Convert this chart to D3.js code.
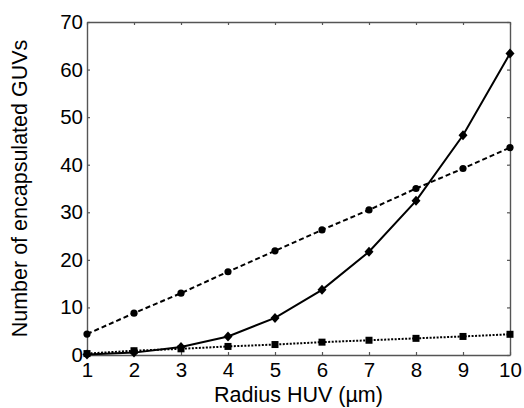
<!DOCTYPE html>
<html>
<head>
<meta charset="utf-8">
<script src="https://cdn.jsdelivr.net/npm/d3@7"></script>
<style>
  body { margin: 0; background: #fff; }
  text { font-family: "Liberation Sans", Arial, sans-serif; fill: #000; }
</style>
</head>
<body>
<div id="chart"></div>
<script>
// radius of HUV (µm)
let radius = [1, 2, 3, 4, 5, 6, 7, 8, 9, 10];

// number of encapsulated GUVs, one array per series
let diamondSeries = [0.1, 0.5, 1.7, 3.9, 7.8, 13.7, 21.7, 32.4, 46.2, 63.4];
let circleSeries = [4.4, 8.8, 13.0, 17.5, 21.9, 26.3, 30.5, 35.0, 39.2, 43.6];
let squareSeries = [0.3, 0.9, 1.3, 1.8, 2.2, 2.7, 3.1, 3.5, 3.9, 4.35];

let xTicks = [1, 2, 3, 4, 5, 6, 7, 8, 9, 10];
let yTicks = [0, 10, 20, 30, 40, 50, 60, 70];

let width = 524, height = 408;
let margin = {top: 22, right: 14, bottom: 53, left: 87};
let tickFont = "20.5px";
let titleFont = "21.5px";

let svg = d3.select("#chart").append("svg")
    .attr("width", width)
    .attr("height", height);

let x = d3.scaleLinear().domain([1, 10]).range([margin.left, width - margin.right]);
let y = d3.scaleLinear().domain([0, 70]).range([height - margin.bottom, margin.top]);

let axisColor = "#555";

// frame with inward ticks on all four sides
function styleAxis(g) {
    g.attr("font-family", null).attr("font-size", null);
    g.select(".domain").attr("stroke", axisColor).attr("stroke-width", 1.4);
    g.selectAll(".tick line").attr("stroke", axisColor).attr("stroke-width", 1.2);
    g.selectAll(".tick text").style("font-size", tickFont).attr("fill", "#000");
}

svg.append("g")
    .attr("transform", `translate(0,${y(0)})`)
    .call(d3.axisBottom(x).tickValues(xTicks).tickSizeInner(-3).tickSizeOuter(0).tickPadding(7))
    .call(styleAxis);

svg.append("g")
    .attr("transform", `translate(0,${y(70)})`)
    .call(d3.axisTop(x).tickValues(xTicks).tickSizeInner(-3).tickSizeOuter(0).tickFormat(""))
    .call(styleAxis);

svg.append("g")
    .attr("transform", `translate(${x(1)},0)`)
    .call(d3.axisLeft(y).tickValues(yTicks).tickSizeInner(-3).tickSizeOuter(0).tickPadding(4))
    .call(styleAxis);

svg.append("g")
    .attr("transform", `translate(${x(10)},0)`)
    .call(d3.axisRight(y).tickValues(yTicks).tickSizeInner(-3).tickSizeOuter(0).tickFormat(""))
    .call(styleAxis);

// series lines
let line = d3.line().x((d, i) => x(radius[i])).y(d => y(d));

svg.append("path")
    .datum(circleSeries)
    .attr("fill", "none")
    .attr("stroke", "#000")
    .attr("stroke-width", 2)
    .attr("stroke-dasharray", "5,3")
    .attr("d", line);

svg.append("path")
    .datum(squareSeries)
    .attr("fill", "none")
    .attr("stroke", "#000")
    .attr("stroke-width", 2)
    .attr("stroke-dasharray", "2,1.5")
    .attr("d", line);

svg.append("path")
    .datum(diamondSeries)
    .attr("fill", "none")
    .attr("stroke", "#000")
    .attr("stroke-width", 2)
    .attr("d", line);

// markers
svg.append("g")
    .selectAll("circle")
    .data(circleSeries)
    .join("circle")
    .attr("cx", (d, i) => x(radius[i]))
    .attr("cy", d => y(d))
    .attr("r", 3.6)
    .attr("fill", "#000");

svg.append("g")
    .selectAll("rect")
    .data(squareSeries)
    .join("rect")
    .attr("x", (d, i) => x(radius[i]) - 3.5)
    .attr("y", d => y(d) - 3.5)
    .attr("width", 7)
    .attr("height", 7)
    .attr("fill", "#000");

svg.append("g")
    .selectAll("path")
    .data(diamondSeries)
    .join("path")
    .attr("transform", (d, i) => `translate(${x(radius[i])},${y(d)})`)
    .attr("d", "M0,-5L4.5,0L0,5L-4.5,0Z")
    .attr("fill", "#000");

// axis titles
svg.append("text")
    .attr("x", (x(1) + x(10)) / 2)
    .attr("y", 402)
    .attr("text-anchor", "middle")
    .style("font-size", titleFont)
    .text("Radius HUV (µm)");

svg.append("text")
    .attr("transform", `translate(27,${(y(0) + y(70)) / 2}) rotate(-90)`)
    .attr("text-anchor", "middle")
    .style("font-size", titleFont)
    .text("Number of encapsulated GUVs");
</script>
</body>
</html>
